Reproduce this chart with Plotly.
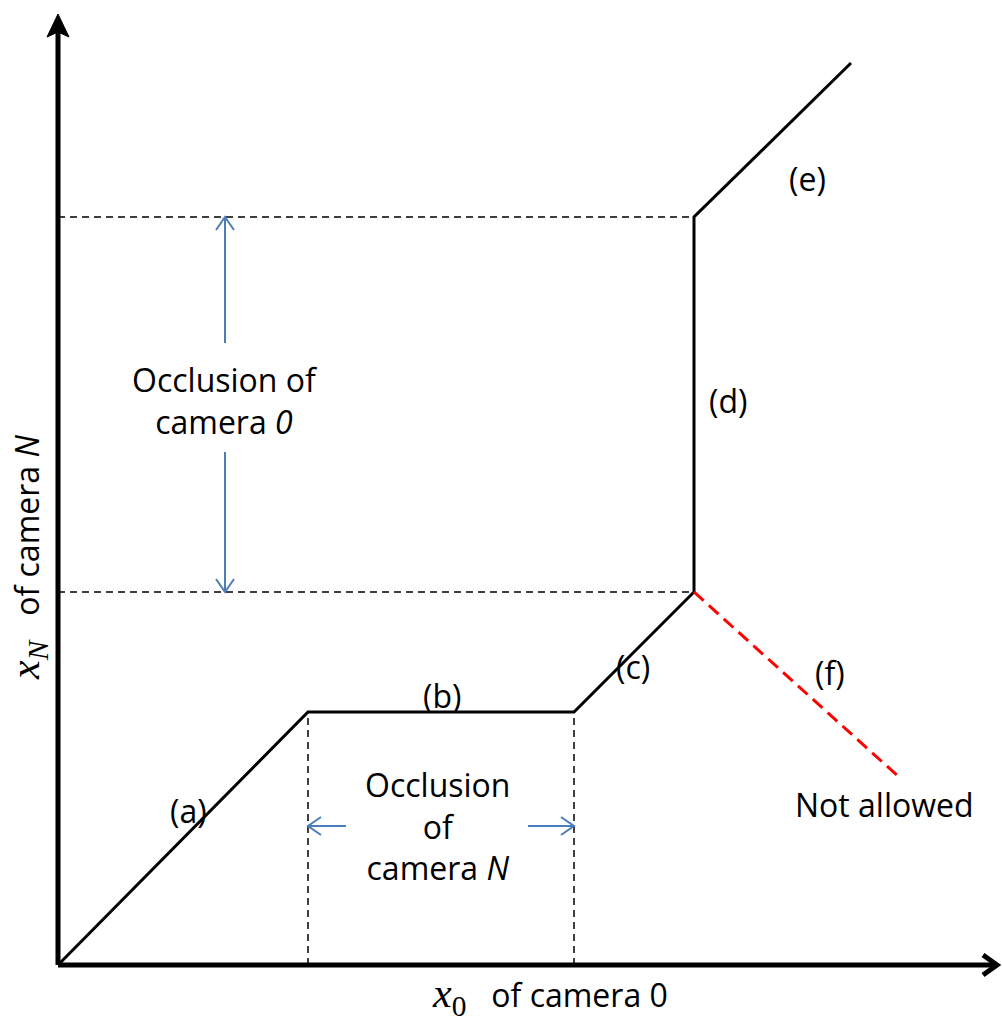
import plotly.graph_objects as go

# Matching path in the (x0 of camera 0, xN of camera N) plane
path_x0 = [0, 250, 516, 636, 636, 793]
path_xN = [0, 253, 253, 373, 748, 902]

# Forbidden step leaving the end of segment (c)
forbidden_x0 = [636, 841]
forbidden_xN = [373, 188]

# Segment labels and their anchor points
seg_labels = ["(a)", "(b)", "(c)", "(d)", "(e)", "(f)"]
seg_label_x0 = [130, 384, 575, 670, 749, 772]
seg_label_xN = [155, 270, 299, 565, 787, 293]

# Axis extents (arrow tips)
x_axis_end = 942
y_axis_end = 951

TEXT_FONT = "Open Sans"
MATH_FONT = "Liberation Serif"
FS = 32
BLACK = "#000000"
BLUE = "#4a7ebb"
RED = "#ff0000"

fig = go.Figure()


def seg(xs, ys, color=BLACK, width=3, dash=None, fill=None):
    fig.add_trace(go.Scatter(
        x=xs, y=ys, mode="lines",
        line=dict(color=color, width=width, dash=dash),
        fill=fill, fillcolor=color if fill else None,
        hoverinfo="skip", showlegend=False))


def chevron(tx, ty, dx, dy, color, width, length=13, half=9):
    # open arrowhead at (tx, ty) pointing along (dx, dy)
    nx, ny = -dy, dx
    seg([tx - dx * length + nx * half, tx, tx - dx * length - nx * half],
        [ty - dy * length + ny * half, ty, ty - dy * length - ny * half],
        color=color, width=width)


# Occlusion bounds follow from the path
occN_lo, occN_hi = path_x0[1], path_x0[2]
occ0_lo, occ0_hi = path_xN[3], path_xN[4]
corner_x0 = path_x0[3]

# Dashed guide lines
for yv in (occ0_lo, occ0_hi):
    seg([0, corner_x0], [yv, yv], width=1.5, dash="7px,5px")
for xv in (occN_lo, occN_hi):
    seg([xv, xv], [0, path_xN[1]], width=1.5, dash="7px,5px")

# Axes with arrowheads
seg([0, 0], [0, y_axis_end - 16], width=5)
seg([-11, 0, 11, 0, -11], [y_axis_end - 23, y_axis_end, y_axis_end - 23,
                            y_axis_end - 18, y_axis_end - 23],
    width=1, fill="toself")
seg([0, x_axis_end - 3], [0, 0], width=5)
chevron(x_axis_end - 3, 0, 1, 0, BLACK, 5, length=14, half=10)

# Matching path and forbidden direction
seg(path_x0, path_xN, width=3)
seg(forbidden_x0, forbidden_xN, color=RED, width=3, dash="13px,7px")

# Blue double arrows marking the occlusion intervals
arrow_x = 167
seg([arrow_x, arrow_x], [622, occ0_hi], color=BLUE, width=2)
chevron(arrow_x, occ0_hi, 0, 1, BLUE, 2)
seg([arrow_x, arrow_x], [513, occ0_lo], color=BLUE, width=2)
chevron(arrow_x, occ0_lo, 0, -1, BLUE, 2)

arrow_y = 139
seg([288, occN_lo], [arrow_y, arrow_y], color=BLUE, width=2)
chevron(occN_lo, arrow_y, -1, 0, BLUE, 2)
seg([470, occN_hi], [arrow_y, arrow_y], color=BLUE, width=2)
chevron(occN_hi, arrow_y, 1, 0, BLUE, 2)

# Text
def label(x, y, text, angle=0):
    fig.add_annotation(x=x, y=y, text=text, showarrow=False,
                       xanchor="center", yanchor="middle", textangle=angle,
                       font=dict(family=TEXT_FONT, size=FS, color=BLACK))


for t, lx, ly in zip(seg_labels, seg_label_x0, seg_label_xN):
    label(lx, ly, t)

label(826, 161, "Not allowed")
label(arrow_x, 565, "Occlusion of<br>camera <i>0</i>")
label(379, arrow_y, "Occlusion<br>of<br>camera <i>N</i>")

math_x0 = (f'<span style="font-family:{MATH_FONT};font-size:42px">'
           '<i>x</i><sub>0</sub></span>')
math_xN = (f'<span style="font-family:{MATH_FONT};font-size:42px">'
           '<i>x</i><sub><i>N</i></sub></span>')
gap = "&nbsp;&nbsp;&nbsp;"
label(492, -31, math_x0 + gap + "of camera 0")
label(-30, 407, math_xN + gap + "of camera <i>N</i>", angle=-90)

fig.update_layout(
    width=1002, height=1022,
    margin=dict(l=0, r=0, t=0, b=0),
    paper_bgcolor="white", plot_bgcolor="white",
    xaxis=dict(range=[-58, 944], visible=False, fixedrange=True),
    yaxis=dict(range=[-57, 965], visible=False, fixedrange=True),
    showlegend=False, hovermode=False,
)

fig.write_html("out.html")
